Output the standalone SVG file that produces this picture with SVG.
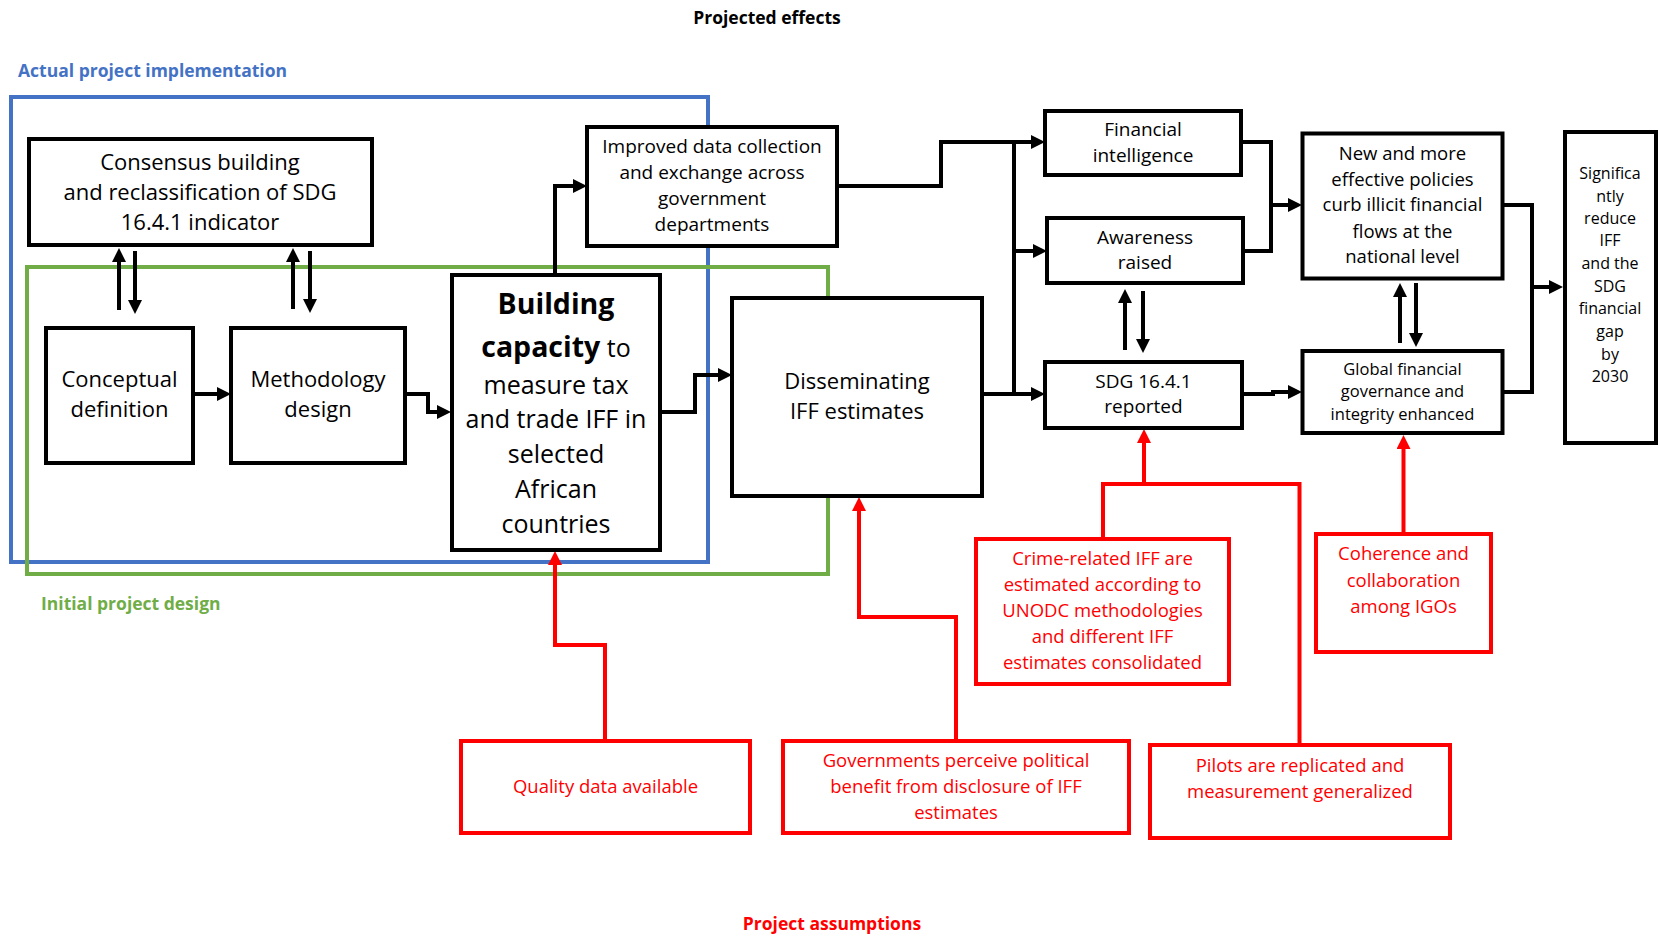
<svg xmlns="http://www.w3.org/2000/svg" width="1659" height="936" viewBox="0 0 1659 936">
<style>
text{font-family:"Open Sans","Liberation Sans",sans-serif;text-anchor:middle;fill:#000}
.box{fill:#fff;stroke:#000;stroke-width:4}
.rbox{fill:#fff;stroke:#f00;stroke-width:4}
.conn{fill:none;stroke:#000;stroke-width:4}
.rconn{fill:none;stroke:#f00;stroke-width:4}
.t19{font-size:19px}
.t22{font-size:22px}
.t25{font-size:25px}
.r{fill:#f00;font-size:18.5px}
.lbl{font-weight:bold;font-size:17.5px}
</style>
<defs>
<marker id="ah" markerUnits="userSpaceOnUse" markerWidth="14" markerHeight="14" refX="2" refY="7" orient="auto"><path d="M0,0 L14,7 L0,14 z" fill="#000"/></marker>
<marker id="ahr" markerUnits="userSpaceOnUse" markerWidth="14" markerHeight="14" refX="2" refY="7" orient="auto"><path d="M0,0 L14,7 L0,14 z" fill="#f00"/></marker>
</defs>
<rect width="1659" height="936" fill="#fff"/>
<g id="labels">
<text class="lbl" x="767" y="24">Projected effects</text>
<text class="lbl" x="18" y="77" style="text-anchor:start;fill:#4472C4">Actual project implementation</text>
<text class="lbl" x="41" y="610" style="text-anchor:start;fill:#70AD47">Initial project design</text>
<text class="lbl" x="832" y="930" style="fill:#f00">Project assumptions</text>
</g>
<g id="containers">
<rect x="11" y="97" width="697" height="465" fill="none" stroke="#4472C4" stroke-width="4"/>
<rect x="27" y="267" width="801" height="307" fill="none" stroke="#70AD47" stroke-width="4"/>
</g>
<g id="connectors">
<path class="conn" marker-end="url(#ah)" d="M119,310 V260"/>
<path class="conn" marker-end="url(#ah)" d="M135,251 V302"/>
<path class="conn" marker-end="url(#ah)" d="M293,309 V260"/>
<path class="conn" marker-end="url(#ah)" d="M310,251 V301"/>
<path class="conn" marker-end="url(#ah)" d="M193,394 H219"/>
<path class="conn" marker-end="url(#ah)" d="M405,394 H428 V412 H439"/>
<path class="conn" marker-end="url(#ah)" d="M660,412 H695 V375 H720"/>
<path class="conn" marker-end="url(#ah)" d="M555,275 V186 H575"/>
<path class="conn" marker-end="url(#ah)" d="M837,186 H941 V142 H1033"/>
<path class="conn" d="M1014,142 V396"/>
<path class="conn" marker-end="url(#ah)" d="M1014,251 H1035"/>
<path class="conn" marker-end="url(#ah)" d="M982,394 H1033"/>
<path class="conn" marker-end="url(#ah)" d="M1125,350 V301"/>
<path class="conn" marker-end="url(#ah)" d="M1143,291 V341"/>
<path class="conn" d="M1241,142 H1271 V251 H1243"/>
<path class="conn" marker-end="url(#ah)" d="M1271,205 H1290"/>
<path class="conn" marker-end="url(#ah)" d="M1242,394 H1273 V392 H1290"/>
<path class="conn" marker-end="url(#ah)" d="M1400,343 V295"/>
<path class="conn" marker-end="url(#ah)" d="M1416,283 V335"/>
<path class="conn" d="M1502,205 H1532 V392 H1502"/>
<path class="conn" marker-end="url(#ah)" d="M1532,287 H1551"/>
<path class="rconn" marker-end="url(#ahr)" d="M605,741 V645 H555 V563"/>
<path class="rconn" marker-end="url(#ahr)" d="M956,741 V617 H859 V509"/>
<path class="rconn" d="M1103,539 V484 H1299.5 V745"/>
<path class="rconn" marker-end="url(#ahr)" d="M1144,484 V441"/>
<path class="rconn" marker-end="url(#ahr)" d="M1403.5,534 V447"/>
</g>
<g id="consensus">
<rect class="box" x="29" y="139" width="343" height="106"/>
<text class="t22" x="200" y="170">Consensus building</text>
<text class="t22" x="200" y="200">and reclassification of SDG</text>
<text class="t22" x="200" y="230">16.4.1 indicator</text>
</g>
<g id="conceptual">
<rect class="box" x="46" y="328" width="147" height="135"/>
<text class="t22" x="119.5" y="387">Conceptual</text>
<text class="t22" x="119.5" y="417">definition</text>
</g>
<g id="methodology">
<rect class="box" x="231" y="328" width="174" height="135"/>
<text class="t22" x="318" y="387">Methodology</text>
<text class="t22" x="318" y="417">design</text>
</g>
<g id="building">
<rect class="box" x="452" y="275" width="208" height="275"/>
<text x="556" y="314" style="font-weight:bold;font-size:28.5px">Building</text>
<text class="t25" x="556" y="357"><tspan style="font-weight:bold;font-size:28.5px">capacity</tspan> to</text>
<text class="t25" x="556" y="394">measure tax</text>
<text class="t25" x="556" y="428">and trade IFF in</text>
<text class="t25" x="556" y="463">selected</text>
<text class="t25" x="556" y="498">African</text>
<text class="t25" x="556" y="533">countries</text>
</g>
<g id="improved">
<rect class="box" x="587" y="127" width="250" height="119"/>
<text class="t19" x="712" y="153">Improved data collection</text>
<text class="t19" x="712" y="179">and exchange across</text>
<text class="t19" x="712" y="205">government</text>
<text class="t19" x="712" y="231">departments</text>
</g>
<g id="disseminating">
<rect class="box" x="732" y="298" width="250" height="198"/>
<text class="t22" x="857" y="389">Disseminating</text>
<text class="t22" x="857" y="419">IFF estimates</text>
</g>
<g id="financial">
<rect class="box" x="1045" y="111" width="196" height="64"/>
<text class="t19" x="1143" y="136">Financial</text>
<text class="t19" x="1143" y="162">intelligence</text>
</g>
<g id="awareness">
<rect class="box" x="1047" y="218" width="196" height="65"/>
<text class="t19" x="1145" y="244">Awareness</text>
<text class="t19" x="1145" y="269">raised</text>
</g>
<g id="sdg">
<rect class="box" x="1045" y="362" width="197" height="66"/>
<text class="t19" x="1143.5" y="388">SDG 16.4.1</text>
<text class="t19" x="1143.5" y="413">reported</text>
</g>
<g id="policies">
<rect class="box" x="1302.5" y="133.5" width="200" height="145"/>
<text x="1402.5" y="159.5" style="font-size:18.5px">New and more</text>
<text x="1402.5" y="185.5" style="font-size:18.5px">effective policies</text>
<text x="1402.5" y="211" style="font-size:18.5px">curb illicit financial</text>
<text x="1402.5" y="237.5" style="font-size:18.5px">flows at the</text>
<text x="1402.5" y="263" style="font-size:18.5px">national level</text>
</g>
<g id="global">
<rect class="box" x="1302.5" y="351" width="200" height="82"/>
<text x="1402.5" y="375" style="font-size:16.5px">Global financial</text>
<text x="1402.5" y="397" style="font-size:16.5px">governance and</text>
<text x="1402.5" y="419.5" style="font-size:16.5px">integrity enhanced</text>
</g>
<g id="final">
<rect class="box" x="1565" y="132" width="91" height="311"/>
<text x="1610" y="179" style="font-size:16px">Significa</text>
<text x="1610" y="201.5" style="font-size:16px">ntly</text>
<text x="1610" y="224" style="font-size:16px">reduce</text>
<text x="1610" y="246" style="font-size:16px">IFF</text>
<text x="1610" y="269" style="font-size:16px">and the</text>
<text x="1610" y="291.5" style="font-size:16px">SDG</text>
<text x="1610" y="314" style="font-size:16px">financial</text>
<text x="1610" y="337" style="font-size:16px">gap</text>
<text x="1610" y="360" style="font-size:16px">by</text>
<text x="1610" y="382" style="font-size:16px">2030</text>
</g>
<g id="quality">
<rect class="rbox" x="461" y="741" width="289" height="92"/>
<text class="r" x="605.5" y="793">Quality data available</text>
</g>
<g id="governments">
<rect class="rbox" x="783" y="741" width="346" height="92"/>
<text class="r" x="956" y="767">Governments perceive political</text>
<text class="r" x="956" y="793">benefit from disclosure of IFF</text>
<text class="r" x="956" y="819">estimates</text>
</g>
<g id="crime">
<rect class="rbox" x="976" y="539" width="253" height="145"/>
<text class="r" x="1102.5" y="565">Crime-related IFF are</text>
<text class="r" x="1102.5" y="591">estimated according to</text>
<text class="r" x="1102.5" y="617">UNODC methodologies</text>
<text class="r" x="1102.5" y="643">and different IFF</text>
<text class="r" x="1102.5" y="669">estimates consolidated</text>
</g>
<g id="pilots">
<rect class="rbox" x="1150" y="745" width="300" height="93"/>
<text class="r" x="1300" y="772">Pilots are replicated and</text>
<text class="r" x="1300" y="798">measurement generalized</text>
</g>
<g id="coherence">
<rect class="rbox" x="1316" y="534" width="175" height="118"/>
<text class="r" x="1403.5" y="560">Coherence and</text>
<text class="r" x="1403.5" y="587">collaboration</text>
<text class="r" x="1403.5" y="613">among IGOs</text>
</g>
</svg>
